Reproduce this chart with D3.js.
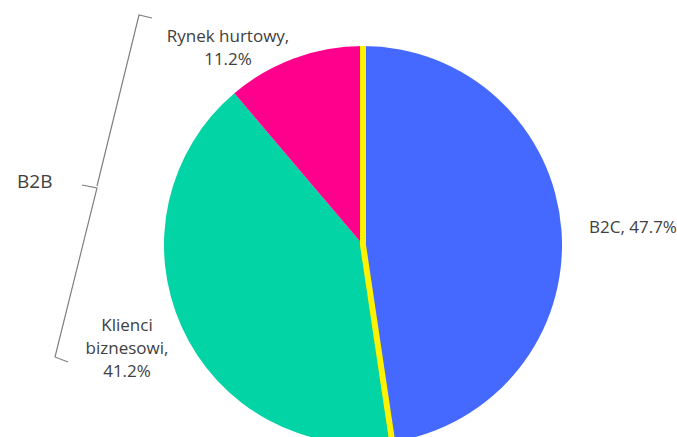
<!DOCTYPE html>
<html lang="pl">
<head>
<meta charset="utf-8">
<style>
  body { margin: 0; background: #fff; }
  svg text { font-family: "Open Sans", sans-serif; fill: #404040; }
</style>
</head>
<body>
<svg width="677" height="437"></svg>
<script src="https://cdn.jsdelivr.net/npm/d3@7/dist/d3.min.js"></script>
<script>
// chart data
var categories = ["B2C", "Klienci biznesowi", "Rynek hurtowy"];
var shares = [47.7, 41.2, 11.2];
var labelLines = [["B2C, 47.7%"], ["Klienci", "biznesowi,", "41.2%"], ["Rynek hurtowy,", "11.2%"]];
var groupLabel = "B2B";

var colors = ["#4569FF", "#02D4A6", "#FF008C"];

// label placement (pixels)
var labelPos = [
    { x: 589, y: 233, anchor: "start" },
    { x: 127, y: 331, anchor: "middle" },
    { x: 228, y: 42, anchor: "middle" }
];

var svg = d3.select("svg"),
    cx = 363, cy = 245, radius = 199;

var g = svg.append("g")
    .attr("transform", "translate(" + cx + "," + cy + ")");

var pie = d3.pie().sort(null).value(function(d) { return d; });
var arcs = pie(shares);

var arc = d3.arc().innerRadius(0).outerRadius(radius);

g.selectAll(".slice")
    .data(arcs)
    .enter().append("path")
    .attr("class", "slice")
    .attr("d", arc)
    .attr("fill", function(d, i) { return colors[i]; });

// yellow separator along the B2C slice edges
function edgePoint(a) {
    return [radius * Math.sin(a), -radius * Math.cos(a)];
}
var b2c = arcs[0];
g.append("path")
    .attr("d", d3.line()([edgePoint(b2c.startAngle), [0, 0], edgePoint(b2c.endAngle)]))
    .attr("fill", "none")
    .attr("stroke", "#FFF200")
    .attr("stroke-width", 6)
    .attr("stroke-linejoin", "miter");

// slice labels
labelLines.forEach(function(lines, i) {
    var p = labelPos[i];
    var t = svg.append("text")
        .attr("x", p.x)
        .attr("y", p.y)
        .attr("text-anchor", p.anchor)
        .style("font-size", "17px");
    lines.forEach(function(line, j) {
        t.append("tspan")
            .attr("x", p.x)
            .attr("dy", j === 0 ? 0 : 23)
            .text(line);
    });
});

// B2B brace
svg.append("path")
    .attr("d", "M152,18 L139,15 L97,186 M82,185 L97,188 L55,357 L68,362")
    .attr("fill", "none")
    .attr("stroke", "#808080")
    .attr("stroke-width", 1.2);

svg.append("text")
    .attr("x", 17)
    .attr("y", 188)
    .style("font-size", "19px")
    .text(groupLabel);
</script>
</body>
</html>
